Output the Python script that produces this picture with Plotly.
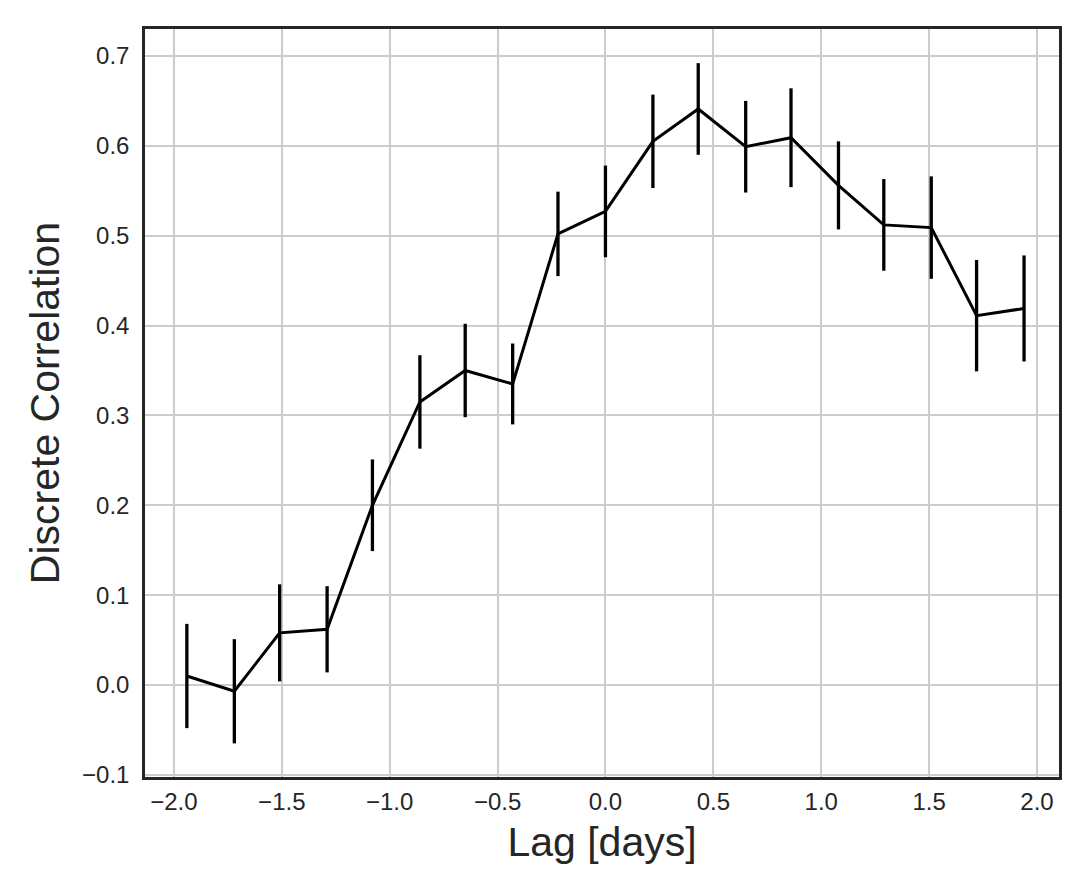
import plotly.graph_objects as go

lag = [-1.94, -1.72, -1.51, -1.29, -1.08, -0.86, -0.65, -0.43, -0.22, 0.0,
       0.22, 0.43, 0.65, 0.86, 1.08, 1.29, 1.51, 1.72, 1.94]
dcf = [0.010, -0.007, 0.058, 0.062, 0.200, 0.315, 0.350, 0.335, 0.502, 0.527,
       0.605, 0.641, 0.599, 0.609, 0.556, 0.512, 0.509, 0.411, 0.419]
err = [0.058, 0.058, 0.054, 0.048, 0.051, 0.052, 0.052, 0.045, 0.047, 0.051,
       0.052, 0.051, 0.051, 0.055, 0.049, 0.051, 0.057, 0.062, 0.059]

FONT = "Liberation Sans, Arial"

fig = go.Figure()
fig.add_trace(go.Scatter(
    x=lag, y=dcf, mode="lines",
    line=dict(color="black", width=3),
    error_y=dict(type="data", array=err, visible=True, color="black",
                 thickness=3.3, width=0),
    showlegend=False,
))

axis_common = dict(
    showgrid=True, gridcolor="#cccccc", gridwidth=1.6,
    showline=True, linecolor="#262626", linewidth=2.5, mirror=True,
    ticks="", zeroline=False,
    tickfont=dict(family=FONT, size=24, color="#262626"),
)

fig.update_xaxes(range=[-2.134, 2.102], dtick=0.5, tickformat=".1f",
                 ticklabelstandoff=1,
                 title=dict(text="Lag [days]", font=dict(family=FONT, size=41, color="#262626"), standoff=14),
                 **axis_common)
fig.update_yaxes(range=[-0.1024, 0.730], dtick=0.1, tickformat=".1f",
                 ticklabelstandoff=8,
                 title=dict(text="Discrete Correlation", font=dict(family=FONT, size=41, color="#262626"), standoff=10),
                 **axis_common)

fig.update_layout(
    width=1090, height=892,
    margin=dict(l=137, r=39, t=21, b=123),
    plot_bgcolor="white", paper_bgcolor="white",
)

fig.write_html("out.html")
